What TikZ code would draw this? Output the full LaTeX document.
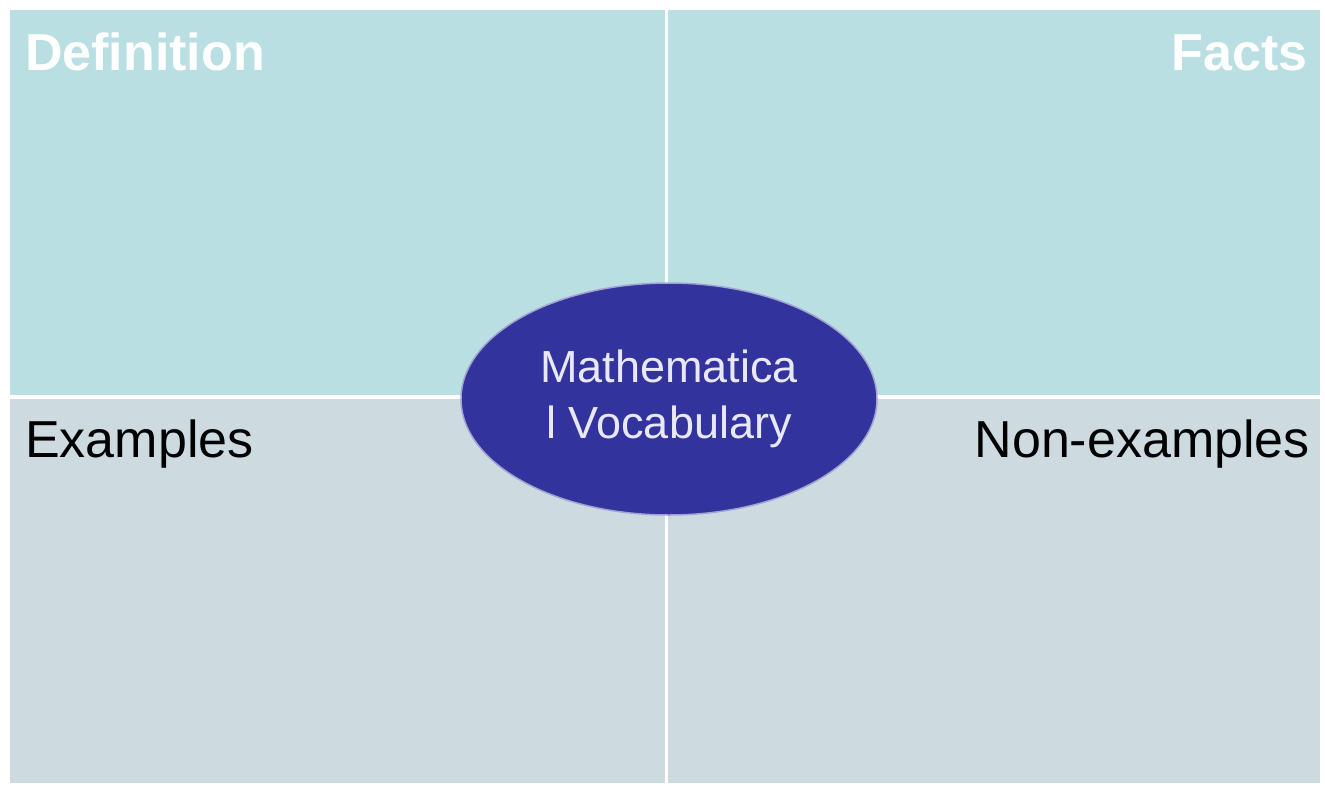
\documentclass[tikz,border=0pt]{standalone}
\usepackage{fontspec}
\setmainfont{Liberation Sans}
\usetikzlibrary{shapes.geometric, positioning}

\definecolor{topfill}{RGB}{185,223,227}
\definecolor{botfill}{RGB}{205,218,224}
\definecolor{ovalfill}{RGB}{51,51,158}
\definecolor{ovaltext}{RGB}{232,232,248}

\begin{document}
\begin{tikzpicture}[
 x=1pt, y=-1pt,
 quad/.style={rectangle, draw=none, inner sep=0pt, anchor=north west},
 head/.style={font=\fontsize{52}{60}\selectfont\bfseries\color{white}, inner sep=0pt},
 tag/.style={font=\fontsize{52}{60}\selectfont\color{black}, inner sep=0pt},
 oval/.style={ellipse, draw=ovalfill!45!white, line width=1.5pt, fill=ovalfill, minimum width=416pt, minimum height=232pt, inner sep=0pt, align=center, font=\fontsize{45}{56}\selectfont\color{ovaltext}}
]
\useasboundingbox (0,0) rectangle (1325,785);

\node[quad, fill=topfill, minimum width=655pt, minimum height=385pt] (defbox) at (10,10) {};
\node[quad, fill=topfill, minimum width=652pt, minimum height=385pt] (factbox) at (668,10) {};
\node[quad, fill=botfill, minimum width=655pt, minimum height=384pt] (exbox) at (10,399) {};
\node[quad, fill=botfill, minimum width=652pt, minimum height=384pt] (nonbox) at (668,399) {};

\node[head, anchor=base west] (def) at (25,70) {Definition};
\node[head, anchor=base east] (facts) at (1308,70) {Facts};
\node[tag, anchor=base west] (ex) at (25,457) {Examples};
\node[tag, anchor=base east] (nonex) at (1310,457) {Non-examples};

\node[oval] (vocab) at (669,399) {Mathematica\\l Vocabulary};
\end{tikzpicture}
\end{document}
